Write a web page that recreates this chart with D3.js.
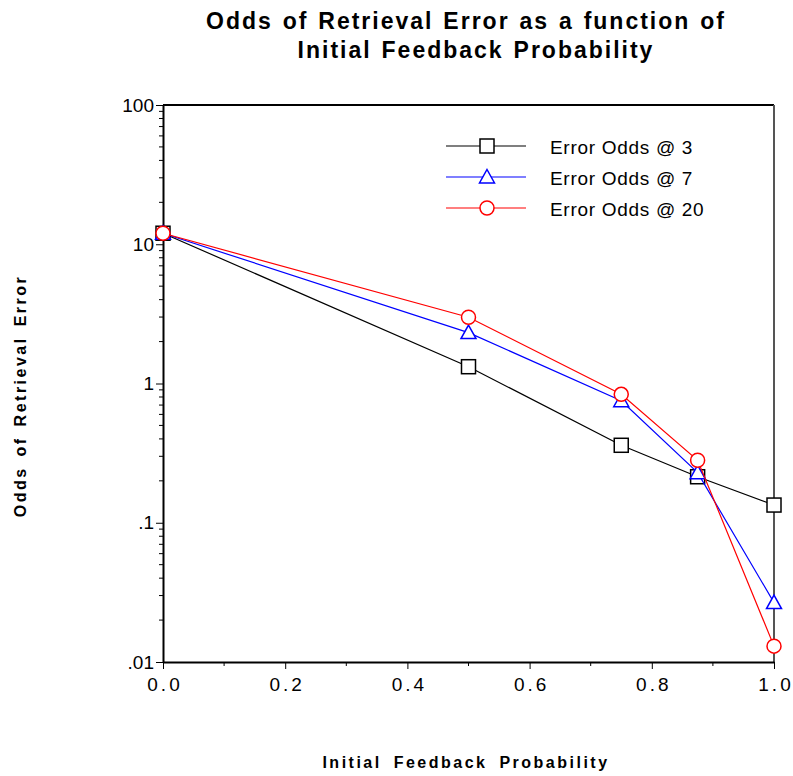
<!DOCTYPE html>
<html>
<head>
<meta charset="utf-8">
<script src="https://cdn.jsdelivr.net/npm/d3@7"></script>
<style>
  body { margin: 0; background: #fff; }
  svg { display: block; font-family: "Liberation Sans", Arial, sans-serif; }
</style>
</head>
<body>
<svg id="chart" width="793" height="776"></svg>
<script>
const xValues = [0, 0.5, 0.75, 0.875, 1.0];
const odds3 = [12, 1.32, 0.36, 0.214, 0.134];
const odds7 = [12, 2.32, 0.752, 0.229, 0.0267];
const odds20 = [12, 2.99, 0.836, 0.281, 0.013];
const seriesNames = ["Error Odds @ 3", "Error Odds @ 7", "Error Odds @ 20"];
const xTicks = [0, 0.2, 0.4, 0.6, 0.8, 1.0];
const yTicks = [0.01, 0.1, 1, 10, 100];
const yTickLabels = [".01", ".1", "1", "10", "100"];

const W = 793, H = 776;
const m = { top: 105, right: 19, bottom: 114, left: 163 };
const iW = W - m.left - m.right;
const iH = H - m.top - m.bottom;

const svg = d3.select("#chart");

// Titles
svg.append("text").attr("x", 466).attr("y", 29).attr("text-anchor", "middle")
  .style("font-size", "23px").style("font-weight", "bold")
  .style("letter-spacing", "2px").style("word-spacing", "1.5px")
  .text("Odds of Retrieval Error as a function of");
svg.append("text").attr("x", 476).attr("y", 58).attr("text-anchor", "middle")
  .style("font-size", "23px").style("font-weight", "bold")
  .style("letter-spacing", "2px").style("word-spacing", "1.5px")
  .text("Initial Feedback Probability");

const g = svg.append("g").attr("transform", `translate(${m.left},${m.top})`);

const x = d3.scaleLinear().domain([0, 1]).range([0, iW]);
const y = d3.scaleLog().domain([0.01, 100]).range([iH, 0]);

// Frame (top and right)
g.append("line").attr("x1", 0).attr("x2", iW).attr("y1", 0).attr("y2", 0)
  .attr("stroke", "#000").attr("stroke-width", 2);
g.append("line").attr("x1", iW).attr("x2", iW).attr("y1", 0).attr("y2", iH)
  .attr("stroke", "#555").attr("stroke-width", 2);

// Minor ticks
const xMinor = [0.1, 0.3, 0.5, 0.7, 0.9];
g.append("g").selectAll("line").data(xMinor).join("line")
  .attr("x1", d => x(d)).attr("x2", d => x(d)).attr("y1", iH).attr("y2", iH + 4)
  .attr("stroke", "#000").attr("stroke-width", 1);
const yMinor = [];
[0.01, 0.1, 1, 10].forEach(b => { for (let k = 2; k <= 9; k++) yMinor.push(b * k); });
g.append("g").selectAll("line").data(yMinor).join("line")
  .attr("x1", -4).attr("x2", 0).attr("y1", d => y(d)).attr("y2", d => y(d))
  .attr("stroke", "#000").attr("stroke-width", 1);

// X axis
g.append("g")
  .attr("transform", `translate(0,${iH})`)
  .call(d3.axisBottom(x).tickValues(xTicks).tickFormat(d3.format(".1f")).tickSize(7).tickSizeOuter(0))
  .call(ax => {
    ax.select(".domain").attr("stroke", "#000").attr("stroke-width", 2);
    ax.selectAll(".tick line").attr("stroke", "#000");
    ax.selectAll(".tick text").style("font-size", "19px").style("font-family", "Liberation Sans, Arial, sans-serif")
      .style("fill", "#000").attr("y", 16).attr("dy", "0.71em").attr("dx", 1.5).style("letter-spacing", "3px");
  });

// Y axis
g.append("g")
  .call(d3.axisLeft(y).tickValues(yTicks).tickFormat((d, i) => yTickLabels[i]).tickSize(7).tickSizeOuter(0))
  .call(ax => {
    ax.select(".domain").attr("stroke", "#000").attr("stroke-width", 2);
    ax.selectAll(".tick line").attr("stroke", "#000");
    ax.selectAll(".tick text").style("font-size", "19px").style("font-family", "Liberation Sans, Arial, sans-serif")
      .style("fill", "#000").attr("x", -9);
  });

// Axis titles
svg.append("text").attr("x", 466).attr("y", 768).attr("text-anchor", "middle")
  .style("font-size", "16px").style("font-weight", "bold")
  .style("letter-spacing", "2.5px").style("word-spacing", "5px")
  .text("Initial Feedback Probability");
svg.append("text").attr("transform", "rotate(-90)").attr("x", -396).attr("y", 26)
  .attr("text-anchor", "middle")
  .style("font-size", "16px").style("font-weight", "bold")
  .style("letter-spacing", "2.5px").style("word-spacing", "3px")
  .text("Odds of Retrieval Error");

// Series
const series = [
  { name: seriesNames[0], values: odds3, color: "#000", shape: "square" },
  { name: seriesNames[1], values: odds7, color: "#0000ff", shape: "triangle" },
  { name: seriesNames[2], values: odds20, color: "#ff0000", shape: "circle" }
];

function drawMarker(sel, shape, color) {
  if (shape === "square") {
    sel.append("rect").attr("x", -7).attr("y", -7).attr("width", 14).attr("height", 14)
      .attr("fill", "#fff").attr("stroke", color).attr("stroke-width", 1.5);
  } else if (shape === "triangle") {
    sel.append("path").attr("d", "M0,-7.5L7.5,6L-7.5,6Z")
      .attr("fill", "#fff").attr("stroke", color).attr("stroke-width", 1.5);
  } else {
    sel.append("circle").attr("r", 7)
      .attr("fill", "#fff").attr("stroke", color).attr("stroke-width", 1.5);
  }
}

const line = d3.line().x((d, i) => x(xValues[i])).y(d => y(d));

series.forEach(s => {
  g.append("path").datum(s.values).attr("fill", "none")
    .attr("stroke", s.color).attr("stroke-width", 1.2).attr("d", line);
  s.values.forEach((v, i) => {
    const mk = g.append("g").attr("transform", `translate(${x(xValues[i])},${y(v)})`);
    drawMarker(mk, s.shape, s.color);
  });
});

// Legend
const legend = svg.append("g").attr("transform", "translate(446,146)");
series.forEach((s, i) => {
  const row = legend.append("g").attr("transform", `translate(0,${i * 31})`);
  row.append("line").attr("x1", 0).attr("x2", 80).attr("y1", 0).attr("y2", 0)
    .attr("stroke", s.color).attr("stroke-width", 1.2);
  const mk = row.append("g").attr("transform", "translate(41,0)");
  drawMarker(mk, s.shape, s.color);
  row.append("text").attr("x", 104).attr("y", 8).style("font-size", "19px")
    .style("letter-spacing", "0.7px").text(s.name);
});
</script>
</body>
</html>
